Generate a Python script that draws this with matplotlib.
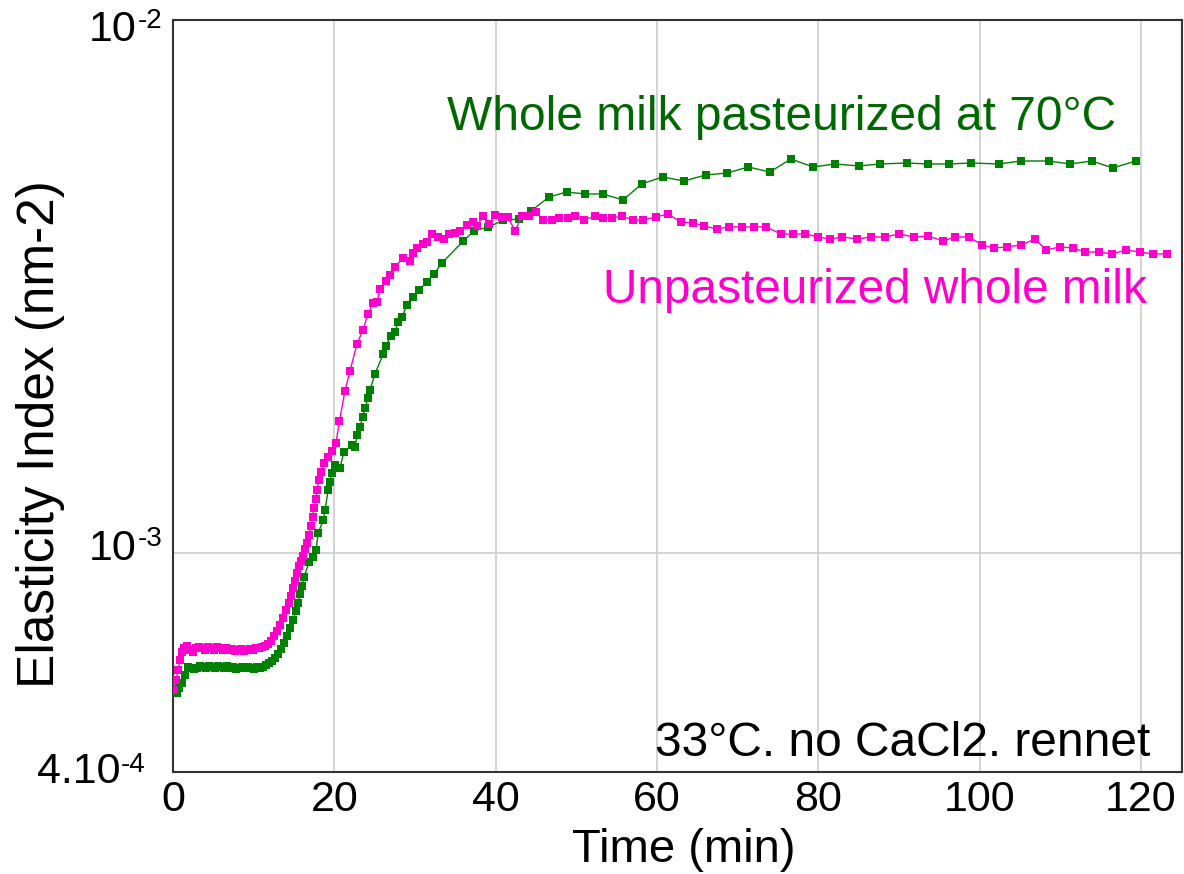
import matplotlib
matplotlib.use('Agg')
import matplotlib.pyplot as plt
import numpy as np

plt.rcParams['font.family'] = ['Liberation Sans', 'DejaVu Sans']

W, H = 1184, 874

# ---- data (time in min, elasticity index in 1e-3 nm^-2) ----
time_past = [0.50, 0.74, 1.12, 1.49, 1.86, 2.23, 2.60, 2.98, 3.35, 3.72, 4.09, 4.46, 4.83, 5.21, 5.58,
             5.95, 6.32, 6.69, 7.07, 7.44, 7.81, 8.18, 8.55, 8.93, 9.30, 9.67, 10.04, 10.41, 10.78, 11.16,
             11.53, 11.90, 12.27, 12.64, 13.02, 13.39, 13.76, 14.13, 14.50, 14.88, 15.25, 15.50, 15.74, 15.99, 16.24,
             16.90, 17.32, 17.73, 18.01, 18.63, 18.84, 19.25, 19.46, 19.67, 20.08, 20.70, 21.20, 22.15, 22.56, 22.85,
             23.18, 23.52, 23.80, 24.21, 24.42, 25.04, 26.07, 26.40, 26.99, 27.52, 27.93, 28.35, 29.04, 29.71, 30.53,
             31.45, 32.35, 33.35, 35.99, 37.31, 39.11, 40.91, 42.95, 44.38, 46.65, 48.80, 51.07, 53.27, 55.82, 58.10,
             60.70, 63.34, 66.07, 68.71, 71.32, 74.00, 76.61, 79.37, 82.06, 85.04, 87.64, 90.99, 93.59, 96.19, 98.92,
             102.39, 105.12, 108.59, 111.19, 113.92, 116.52, 119.37]
ei_past = [0.546, 0.558, 0.570, 0.590, 0.611, 0.609, 0.606, 0.609, 0.614, 0.611, 0.609, 0.614, 0.611, 0.609, 0.614,
           0.611, 0.609, 0.614, 0.609, 0.611, 0.606, 0.609, 0.611, 0.609, 0.611, 0.609, 0.606, 0.611, 0.609, 0.611,
           0.616, 0.622, 0.627, 0.635, 0.646, 0.661, 0.678, 0.699, 0.723, 0.749, 0.778, 0.806, 0.838, 0.867, 0.902,
           0.962, 0.983, 1.013, 1.090, 1.153, 1.204, 1.313, 1.359, 1.413, 1.463, 1.444, 1.547, 1.595, 1.581, 1.665,
           1.723, 1.800, 1.871, 1.954, 2.022, 2.167, 2.362, 2.445, 2.553, 2.598, 2.713, 2.772, 2.919, 3.021, 3.114,
           3.224, 3.337, 3.499, 3.849, 4.019, 4.089, 4.206, 4.233, 4.382, 4.655, 4.756, 4.716, 4.716, 4.595, 4.924,
           5.075, 4.988, 5.119, 5.163, 5.299, 5.186, 5.485, 5.299, 5.368, 5.322, 5.368, 5.391, 5.368, 5.368, 5.391,
           5.368, 5.438, 5.438, 5.368, 5.438, 5.276, 5.438]

time_raw = [0.12, 0.37, 0.62, 0.87, 1.12, 1.36, 1.74, 2.11, 2.48, 2.85, 3.22, 3.59, 3.97, 4.34, 4.71,
            5.08, 5.45, 5.83, 6.20, 6.57, 6.94, 7.31, 7.69, 8.06, 8.43, 8.80, 9.17, 9.54, 9.92, 10.29,
            10.66, 11.03, 11.40, 11.78, 12.15, 12.52, 12.89, 13.26, 13.64, 14.01, 14.38, 14.63, 14.88, 15.12, 15.37,
            15.62, 15.87, 16.11, 16.36, 16.61, 16.86, 17.11, 17.30, 17.48, 17.67, 17.85, 18.10, 18.35, 18.72, 19.22,
            19.71, 20.21, 20.64, 21.32, 21.94, 22.81, 23.55, 24.17, 24.79, 25.29, 25.66, 26.41, 26.90, 27.52, 28.55,
            29.38, 29.75, 30.25, 30.99, 31.49, 32.11, 32.85, 33.60, 34.22, 34.96, 35.58, 36.45, 37.19, 37.69, 38.43,
            39.18, 39.92, 40.79, 41.53, 42.40, 43.26, 44.13, 44.96, 45.87, 46.98, 47.85, 48.97, 49.83, 50.95, 52.31,
            53.30, 54.42, 55.66, 57.02, 58.26, 59.88, 61.36, 62.98, 64.47, 65.83, 67.44, 68.93, 70.54, 72.03, 73.52,
            75.38, 76.87, 78.36, 79.97, 81.46, 82.95, 84.81, 86.54, 88.28, 90.02, 91.88, 93.61, 95.47, 96.96, 98.70,
            100.31, 101.80, 103.41, 105.15, 106.88, 108.25, 109.98, 111.60, 113.08, 114.82, 116.43, 118.17, 119.91,
            121.52, 123.22]
ei_raw = [0.553, 0.578, 0.603, 0.630, 0.652, 0.663, 0.669, 0.658, 0.652, 0.663, 0.666, 0.663, 0.658, 0.666, 0.663,
          0.658, 0.666, 0.663, 0.658, 0.663, 0.658, 0.661, 0.655, 0.658, 0.661, 0.655, 0.658, 0.661, 0.658, 0.663,
          0.663, 0.666, 0.669, 0.675, 0.684, 0.699, 0.714, 0.733, 0.755, 0.782, 0.806, 0.830, 0.860, 0.886, 0.917,
          0.945, 0.966, 0.987, 1.017, 1.044, 1.081, 1.124, 1.168, 1.215, 1.263, 1.313, 1.371, 1.419, 1.475, 1.514,
          1.554, 1.609, 1.769, 2.013, 2.195, 2.466, 2.620, 2.807, 2.944, 2.957, 3.128, 3.238, 3.323, 3.440, 3.576,
          3.530, 3.655, 3.734, 3.800, 3.832, 3.967, 3.916, 3.882, 3.967, 3.984, 4.019, 4.125, 4.178, 4.107, 4.288,
          4.142, 4.307, 4.270, 4.270, 4.019, 4.288, 4.288, 4.363, 4.215, 4.215, 4.251, 4.251, 4.288, 4.215, 4.288,
          4.251, 4.251, 4.288, 4.215, 4.215, 4.270, 4.325, 4.178, 4.160, 4.107, 4.054, 4.089, 4.089, 4.089, 4.089,
          3.967, 3.967, 3.967, 3.916, 3.882, 3.916, 3.882, 3.916, 3.916, 3.967, 3.916, 3.933, 3.849, 3.916, 3.916,
          3.783, 3.734, 3.751, 3.783, 3.882, 3.702, 3.751, 3.734, 3.670, 3.670, 3.639, 3.702, 3.670, 3.639, 3.639]

x_ticks = [0, 20, 40, 60, 80, 100, 120]
x_tick_labels = ['0', '20', '40', '60', '80', '100', '120']

label_past = 'Whole milk pasteurized at 70°C'
label_raw = 'Unpasteurized whole milk'
condition = '33°C. no CaCl2. rennet'

GREEN = '#008000'
GREEN_TXT = '#006800'
MAGENTA = '#ff00cc'

fig = plt.figure(figsize=(W / 100, H / 100), dpi=100)
ax = fig.add_axes([173 / W, 1 - 772 / H, (1182 - 173) / W, (772 - 20) / H])

ax.set_yscale('log')
ax.set_xlim(0, 125.1)
ax.set_ylim(3.88e-4, 1e-2)

ax.plot(time_past, np.array(ei_past) * 1e-3, color=GREEN, lw=1.0, marker='s', ms=5.2,
        mew=0, zorder=3)
ax.plot(time_raw, np.array(ei_raw) * 1e-3, color=MAGENTA, lw=1.0, marker='s', ms=5.2,
        mew=0, zorder=4)

ax.set_xticks(x_ticks)
ax.set_xticklabels(x_tick_labels)
ax.set_yticks([1e-3])
ax.set_yticklabels([''])
ax.yaxis.set_minor_locator(matplotlib.ticker.NullLocator())
ax.tick_params(axis='both', length=0, labelsize=31, pad=5.5)
ax.grid(True, color='#d0d0d0', lw=1.3, zorder=0)
ax.set_axisbelow(True)
for s in ax.spines.values():
    s.set_color('#333333')
    s.set_linewidth(1.5)


def fx(px):
    return px / W


def fy(py):
    return 1 - py / H


# y tick labels with superscripts
ytick_main = ['10', '10', '4.10']
ytick_sup = ['-2', '-3', '-4']
ytick_pos = [(137, 41, 28), (137, 560, 546), (120, 783, 772)]
for main, sup, (xr, yb, ys) in zip(ytick_main, ytick_sup, ytick_pos):
    fig.text(fx(xr), fy(yb), main, ha='right', va='baseline', fontsize=31)
    fig.text(fx(xr + 1), fy(ys), sup, ha='left', va='baseline', fontsize=20)

fig.text(fx(447), fy(130), label_past, color=GREEN_TXT, fontsize=34.5, ha='left', va='baseline')
fig.text(fx(603), fy(303), label_raw, color=MAGENTA, fontsize=34.4, ha='left', va='baseline')
fig.text(fx(1150), fy(756), condition, color='black', fontsize=34.5, ha='right', va='baseline')

fig.text(fx(684), fy(862), 'Time (min)', ha='center', va='baseline', fontsize=34)
fig.text(fx(54), fy(434), 'Elasticity Index (nm-2)', rotation=90, rotation_mode='anchor',
         ha='center', va='baseline', fontsize=37)

fig.savefig('out.png', dpi=100)
